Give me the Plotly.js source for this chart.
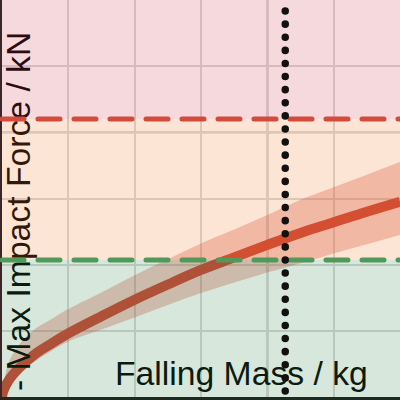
<!DOCTYPE html>
<html>
<head>
<meta charset="utf-8">
<script src="https://cdn.plot.ly/plotly-3.0.1.min.js"></script>
<style>html,body{margin:0;padding:0;background:#fff;}#chart{width:400px;height:400px;}</style>
</head>
<body>
<div id="chart"></div>
<script>
// Falling mass (kg) and estimated max impact force (kN)
const mass  = [0, 0.2, 1, 2.5, 5, 7.5, 10, 15, 20, 25, 30, 35, 40, 45, 50, 55, 60];
const force = [0, 0.09, 0.25, 0.43, 0.65, 0.81, 0.96, 1.22, 1.47, 1.70, 1.92, 2.11, 2.30, 2.48, 2.64, 2.80, 2.95];
const upper = [0, 0.15, 0.52, 0.78, 1.03, 1.18, 1.33, 1.58, 1.84, 2.08, 2.32, 2.53, 2.75, 2.98, 3.17, 3.36, 3.55];
const lower = [0, 0.05, 0.20, 0.35, 0.54, 0.70, 0.84, 1.02, 1.20, 1.39, 1.57, 1.73, 1.88, 2.02, 2.17, 2.31, 2.45];

const upperLimit = 4.2;    // kN, red dashed threshold
const lowerLimit = 2.07;   // kN, green dashed threshold
const markedMass = 42.7;   // kg, dotted marker
const refMass = 40;        // kg, darker reference grid line
const refForce = 4;        // kN, darker reference grid line

const xTitle = 'Falling Mass / kg';
const yTitle = '- Max Impact Force / kN';

const traces = [
  {x: mass, y: upper, mode: 'lines', line: {width: 0, shape: 'spline'}, hoverinfo: 'skip', showlegend: false},
  {x: mass, y: lower, mode: 'lines', line: {width: 0, shape: 'spline'}, fill: 'tonexty',
   fillcolor: 'rgba(204,68,51,0.3)', hoverinfo: 'skip', showlegend: false},
  {x: mass, y: force, mode: 'lines', line: {width: 10, color: '#cc4433', shape: 'spline'}, showlegend: false}
];

const font = {family: '"Liberation Sans", Arial, sans-serif', size: 33.7, color: '#000'};

const layout = {
  width: 400, height: 400,
  margin: {l: 2, r: 0, t: 0, b: 3, pad: 0},
  paper_bgcolor: '#ffffff', plot_bgcolor: '#ffffff',
  showlegend: false,
  xaxis: {range: [0, 60], tick0: 0, dtick: 10, showticklabels: false, ticks: '',
          showgrid: true, gridcolor: '#d9d9d9', gridwidth: 2, zeroline: false,
          showline: true, linecolor: '#1c2a20', linewidth: 3},
  yaxis: {range: [0, 6], tick0: 0, dtick: 1, showticklabels: false, ticks: '',
          showgrid: true, gridcolor: '#d9d9d9', gridwidth: 2, zeroline: false,
          showline: true, linecolor: '#3a2626', linewidth: 2},
  shapes: [
    {type: 'rect', xref: 'paper', yref: 'y', x0: 0, x1: 1, y0: upperLimit, y1: 6.5,
     fillcolor: 'rgb(205,65,80)', opacity: 0.2, line: {width: 0}, layer: 'above'},
    {type: 'rect', xref: 'paper', yref: 'y', x0: 0, x1: 1, y0: lowerLimit, y1: upperLimit,
     fillcolor: 'rgb(245,125,45)', opacity: 0.2, line: {width: 0}, layer: 'above'},
    {type: 'rect', xref: 'paper', yref: 'y', x0: 0, x1: 1, y0: -0.5, y1: lowerLimit,
     fillcolor: 'rgb(60,135,80)', opacity: 0.2, line: {width: 0}, layer: 'above'},
    {type: 'line', xref: 'paper', yref: 'y', x0: 0, x1: 1, y0: upperLimit, y1: upperLimit,
     line: {color: '#d24b3c', width: 5, dash: '22px,14px'}, layer: 'above'},
    {type: 'line', xref: 'paper', yref: 'y', x0: 0, x1: 1, y0: lowerLimit, y1: lowerLimit,
     line: {color: '#4f9a58', width: 5, dash: '22px,14px'}, layer: 'above'},
    {type: 'line', xref: 'x', yref: 'y', x0: markedMass, x1: markedMass, y0: 5.834, y1: -0.3,
     line: {color: '#111111', width: 7.5, dash: '0.1px,13px'}, layer: 'above'},
    {type: 'line', xref: 'x', yref: 'paper', x0: refMass, x1: refMass, y0: 0, y1: 1,
     line: {color: '#959092', width: 2}, layer: 'between'},
    {type: 'line', xref: 'paper', yref: 'y', x0: 0, x1: 1, y0: refForce, y1: refForce,
     line: {color: '#959092', width: 2}, layer: 'between'}
  ],
  annotations: [
    {text: xTitle, xref: 'paper', yref: 'paper', x: 0.603, y: 0.06,
     xanchor: 'center', yanchor: 'middle', showarrow: false, font: font},
    {text: yTitle, xref: 'paper', yref: 'paper', x: 0.04, y: 0.468, textangle: -90,
     xanchor: 'center', yanchor: 'middle', showarrow: false, font: font}
  ]
};

Plotly.newPlot('chart', traces, layout, {displayModeBar: false, staticPlot: true}).then(function (gd) {
  try {
    const above = gd.querySelector('.layer-above');
    const shapeLayer = above.querySelector('.shapelayer');
    gd.querySelectorAll('.infolayer .annotation').forEach(function (a) {
      above.insertBefore(a, shapeLayer);
    });
    [3, 4, 5].forEach(function (i) {
      const p = gd.querySelector('.layer-above .shapelayer path[data-index="' + i + '"]');
      if (p) p.style.strokeLinecap = 'round';
    });
  } catch (e) {}
});
</script>
</body>
</html>
